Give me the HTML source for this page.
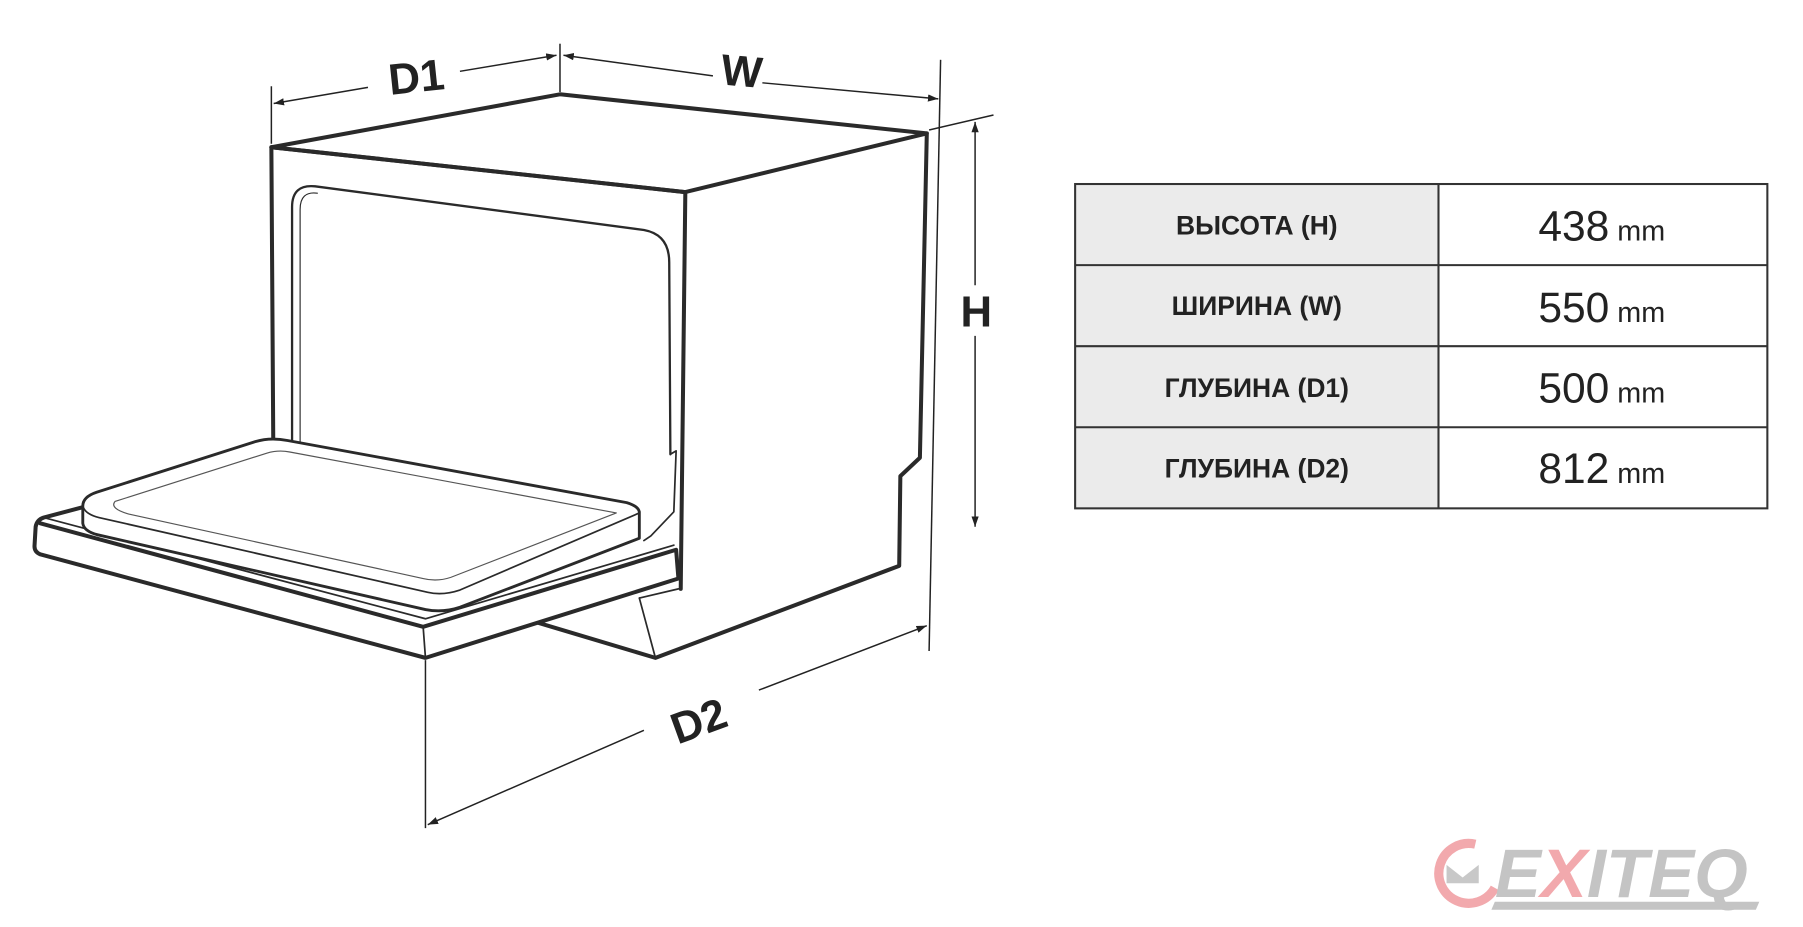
<!DOCTYPE html>
<html><head><meta charset="utf-8"><style>
html,body{margin:0;padding:0;background:#fff;}
svg{display:block}
</style></head><body>
<svg width="1803" height="927" viewBox="0 0 1568 806" preserveAspectRatio="none" xmlns="http://www.w3.org/2000/svg">
<defs>
<marker id="a" viewBox="0 0 10 10" refX="10" refY="5" markerWidth="9" markerHeight="9" orient="auto-start-reverse" markerUnits="userSpaceOnUse"><path d="M0,1.5 L10,5 L0,8.5 z" fill="#222"/></marker>
</defs>
<g fill="none" stroke="#2a2a2a" stroke-linejoin="round" stroke-linecap="round">
<path d="M236,128 L487,82 L806,116 L596,167 Z" stroke-width="3.5" fill="#fff"/>
<path d="M236,128 L596,167" stroke-width="3.5"/>
<path d="M236,128 L238,440" stroke-width="3.5"/>
<path d="M596,167 L592,512" stroke-width="3.5"/>
<path d="M806,116 L800,398 L783,414 L782,492 L570,572 L463,540" stroke-width="3.5"/>
<path d="M556,520 L570,572" stroke-width="1.5"/>
<path d="M556,520 L590,512" stroke-width="1.5"/>
<path d="M254,438 L254,180 Q254,160 274,162 L560,200 Q582,204 582,228 L583,395" stroke-width="2"/>
<path d="M261,438 L261,182 Q261,166 276,168" stroke-width="1"/>
<path d="M583,395 L588,392 L586,445 L566,466 L560,470" stroke-width="1.5"/>
<path d="M35,455 L368,545 L588,478 L590,503 L370,572 L35,482 Q30,480 30,475 L31,458 Q32,452 38,450 L72,441" stroke-width="3.5" fill="#fff"/>
<path d="M368,545 L370,572" stroke-width="1.5"/>
<path d="M38,450 L370,538 L586,474" stroke-width="1.5"/>
<path d="M72,440 L72,455 Q73,462 85,465 L370,530 Q385,533 400,528 L556,468 L556,445 Q555,440 545,437 L250,383 Q235,380 222,384 L84,428 Q72,432 72,440 Z" stroke-width="2.5" fill="#fff"/>
<path d="M72,440 Q74,447 86,450 L372,515 Q385,518 400,513 L556,446" stroke-width="1.5"/>
<path d="M100,436 L232,394 Q242,391 252,393 L536,446 L392,502 Q380,506 368,503 L112,447 Q95,442 100,436 Z" stroke-width="1" stroke="#555"/>
</g>
<g stroke="#222" stroke-width="1.3" fill="none">
<line x1="236" y1="75" x2="236" y2="125"/>
<line x1="487" y1="38" x2="487" y2="80"/>
<line x1="818" y1="52" x2="808" y2="566"/>
<line x1="808" y1="113" x2="864" y2="100"/>
<line x1="370" y1="574" x2="370" y2="720"/>
<line x1="400" y1="62" x2="484" y2="48" marker-end="url(#a)"/>
<line x1="320" y1="76" x2="238" y2="90" marker-end="url(#a)"/>
<line x1="490" y1="48" x2="620" y2="66" marker-start="url(#a)"/>
<line x1="663" y1="72" x2="816" y2="86" marker-end="url(#a)"/>
<line x1="848" y1="106" x2="848" y2="248" marker-start="url(#a)"/>
<line x1="848" y1="292" x2="848" y2="458" marker-end="url(#a)"/>
<line x1="560" y1="635" x2="372" y2="717" marker-end="url(#a)"/>
<line x1="660" y1="600" x2="806" y2="544" marker-end="url(#a)"/>
</g>
<g font-family="Liberation Sans, sans-serif" font-weight="bold" fill="#222" font-size="38">
<text x="362" y="80" text-anchor="middle" transform="rotate(-6 362 66)">D1</text>
<text x="645" y="75" text-anchor="middle" transform="rotate(5 645 62)">W</text>
<text x="849" y="284" text-anchor="middle">H</text>
<text x="607" y="640" text-anchor="middle" transform="rotate(-20 607 625)">D2</text>
</g>
<g>
<rect x="935" y="160" width="316" height="282" fill="#ebebeb"/>
<g stroke="#333" stroke-width="1.8" fill="none">
<rect x="935" y="160" width="602" height="282"/>
<line x1="1251" y1="160" x2="1251" y2="442"/>
<line x1="935" y1="230.5" x2="1537" y2="230.5"/>
<line x1="935" y1="301" x2="1537" y2="301"/>
<line x1="935" y1="371.5" x2="1537" y2="371.5"/>
</g>
<g font-family="Liberation Sans, sans-serif" font-weight="bold" font-size="23" fill="#222" text-anchor="middle">
<text x="1093" y="204">ВЫСОТА (H)</text>
<text x="1093" y="274">ШИРИНА (W)</text>
<text x="1093" y="345">ГЛУБИНА (D1)</text>
<text x="1093" y="415">ГЛУБИНА (D2)</text>
</g>
<g font-family="Liberation Sans, sans-serif" fill="#222" text-anchor="middle">
<text x="1393" y="209" font-size="37">438<tspan font-size="25"> mm</tspan></text>
<text x="1393" y="280" font-size="37">550<tspan font-size="25"> mm</tspan></text>
<text x="1393" y="350" font-size="37">500<tspan font-size="25"> mm</tspan></text>
<text x="1393" y="420" font-size="37">812<tspan font-size="25"> mm</tspan></text>
</g>
</g>
<g>
<path d="M1283,734 A26,26 0 1 0 1300,772" stroke="#f2a9ad" stroke-width="8" fill="none"/>
<path d="M1258,752 L1272,763 L1286,752 L1286,768 L1258,768 Z" fill="#c8c8c8"/>
<g font-family="Liberation Sans, sans-serif" font-weight="bold" font-style="italic" font-size="60">
<text x="1300" y="780" fill="#c4c4c4">E<tspan fill="#f2a9ad">X</tspan>ITEQ</text>
</g>
<path d="M1300,784 L1530,784 L1527,791 L1297,791 Z" fill="#c4c4c4"/>
</g>
</svg>
</body></html>
